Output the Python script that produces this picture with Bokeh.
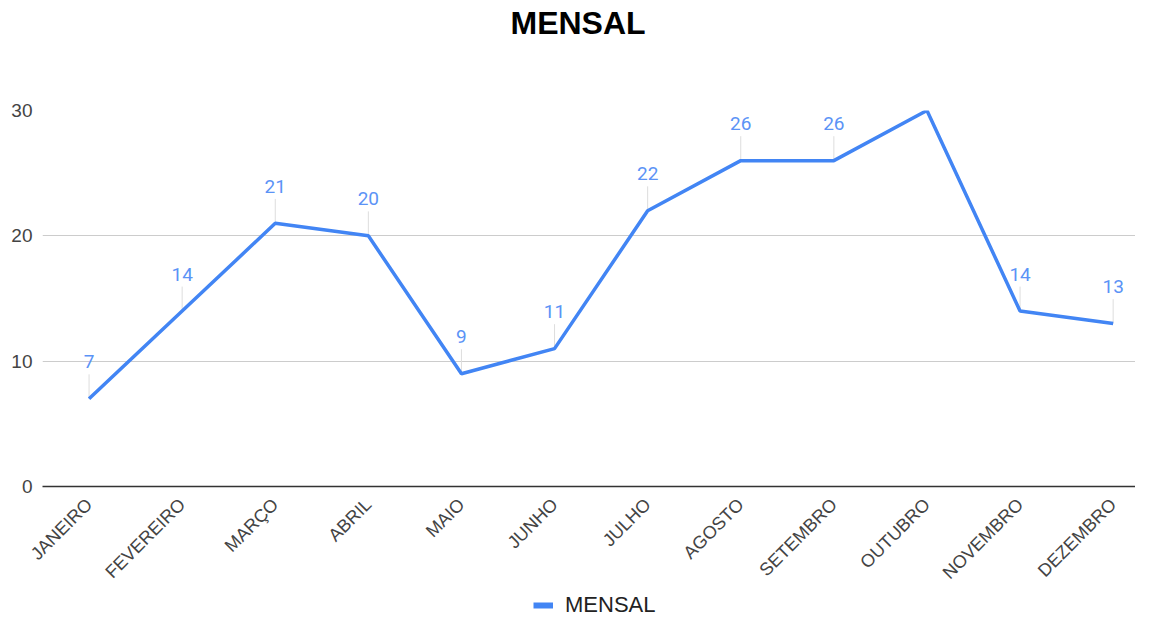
from bokeh.plotting import figure
from bokeh.models import Range1d, FixedTicker, Legend, LegendItem, ColumnDataSource
from bokeh.layouts import column
from bokeh.core.properties import value
from bokeh.embed import file_html
from bokeh.resources import INLINE
import math

months = ["JANEIRO", "FEVEREIRO", "MARÇO", "ABRIL", "MAIO", "JUNHO", "JULHO",
          "AGOSTO", "SETEMBRO", "OUTUBRO", "NOVEMBRO", "DEZEMBRO"]
mensal = [7, 14, 21, 20, 9, 11, 22, 26, 26, 30, 14, 13]
y_ticks = [0, 10, 20, 30]
title_text = "MENSAL"

BLUE = "#4285F4"
xs = list(range(len(months)))
src = ColumnDataSource(dict(x=xs, y=mensal, lab=[str(v) for v in mensal],
                            ytop=[v + 1.95 for v in mensal]))

# title row
tf = figure(width=1135, height=52, output_backend="svg", toolbar_location=None,
            x_range=Range1d(0, 1), y_range=Range1d(0, 1),
            min_border_left=0, min_border_right=0, min_border_top=0, min_border_bottom=0)
tf.axis.visible = False
tf.grid.visible = False
tf.outline_line_color = None
tf.title.text = title_text
tf.title.align = "left"
tf.title.offset = 468
tf.title.text_font = "Liberation Sans"
tf.title.text_font_size = "32px"
tf.title.text_font_style = "bold"
tf.title.text_color = "#000000"
tf.title.standoff = 5

p = figure(width=1135, height=540, output_backend="svg", toolbar_location=None,
           x_range=Range1d(-0.5, 11.24), y_range=Range1d(0, 30),
           min_border_left=42, min_border_right=0, min_border_top=58,
           min_border_bottom=100)
p.outline_line_color = None
p.background_fill_color = "white"
p.border_fill_color = "white"

# grid
p.xgrid.visible = False
p.ygrid.ticker = FixedTicker(ticks=y_ticks)
p.ygrid.grid_line_color = "#cccccc"
p.ygrid.grid_line_width = 1

# y axis
p.yaxis.ticker = FixedTicker(ticks=y_ticks)
p.yaxis.axis_line_color = None
p.yaxis.major_tick_line_color = None
p.yaxis.major_tick_out = 0
p.yaxis.major_tick_in = 0
p.yaxis.minor_tick_line_color = None
p.yaxis.major_label_text_font = "Liberation Sans"
p.yaxis.major_label_text_font_size = "19px"
p.yaxis.major_label_text_color = "#444444"
p.yaxis.major_label_standoff = 10

# x axis
p.xaxis.ticker = FixedTicker(ticks=xs)
p.xaxis.major_label_overrides = {i: m for i, m in enumerate(months)}
p.xaxis.major_label_orientation = math.pi / 4
p.xaxis.axis_line_color = "#333333"
p.xaxis.axis_line_width = 1.5
p.xaxis.major_tick_line_color = None
p.xaxis.minor_tick_line_color = None
p.xaxis.major_label_text_font = "Liberation Sans"
p.xaxis.major_label_text_font_size = "18px"
p.xaxis.major_label_text_color = "#444444"
p.xaxis.major_label_standoff = 9

# leader lines
p.segment(x0="x", y0="y", x1="x", y1="ytop", source=src, line_color="#dddddd", line_width=1)
# main line
p.line("x", "y", source=src, line_color=BLUE, line_width=3.5)
# data labels
p.text("x", "y", text="lab", source=src, y_offset=-37, text_align="center",
       text_baseline="alphabetic", text_font=value("Roboto"), text_font_size="19px",
       text_color="#5b93f6")

# legend row (series drawn outside this row's visible range, only its swatch shows)
lf = figure(width=1135, height=26, output_backend="svg", toolbar_location=None,
            x_range=Range1d(0, 1), y_range=Range1d(-2, -1), min_border=0)
lf.axis.visible = False
lf.grid.visible = False
lf.outline_line_color = None
swatch = lf.line("x", "y", source=src, line_color=BLUE, line_width=6)
legend = Legend(items=[LegendItem(label="MENSAL", renderers=[swatch])],
                orientation="horizontal", location=(491, 0),
                label_text_font="Liberation Sans", label_text_font_size="22px",
                label_text_color="#222222", glyph_width=20, label_standoff=12,
                border_line_color=None, background_fill_alpha=0,
                margin=0, padding=1)
lf.add_layout(legend, "center")

open("out.html", "w").write(file_html(column(tf, p, lf, spacing=0), INLINE))
